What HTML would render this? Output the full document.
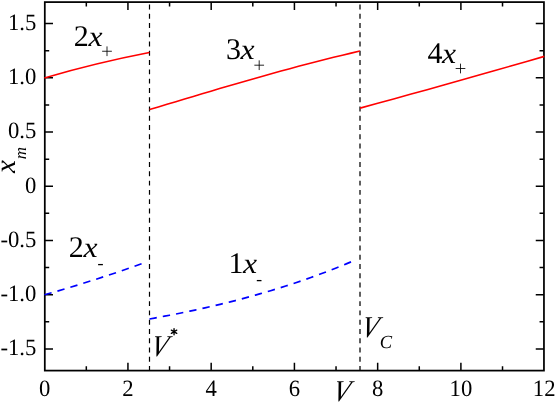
<!DOCTYPE html><html><head><meta charset="utf-8"><style>html,body{margin:0;padding:0;background:#fff}svg{display:block;will-change:transform}text{font-family:"Liberation Serif",serif;fill:#000;text-rendering:geometricPrecision}</style></head><body>
<svg width="556" height="402" viewBox="0 0 556 402">
<rect x="44.8" y="2.1" width="499.15" height="368.50" fill="none" stroke="#000" stroke-width="1.75"/>
<path d="M86.32,370.6v-4.3M86.32,2.1v4.3M127.94,370.6v-7.8M127.94,2.1v7.8M169.56,370.6v-4.3M169.56,2.1v4.3M211.18,370.6v-7.8M211.18,2.1v7.8M252.80,370.6v-4.3M252.80,2.1v4.3M294.42,370.6v-7.8M294.42,2.1v7.8M336.04,370.6v-4.3M336.04,2.1v4.3M377.66,370.6v-7.8M377.66,2.1v7.8M419.28,370.6v-4.3M419.28,2.1v4.3M460.90,370.6v-7.8M460.90,2.1v7.8M502.52,370.6v-4.3M502.52,2.1v4.3M44.8,348.93h8.2M543.95,348.93h-8.2M44.8,321.81h4.4M543.95,321.81h-4.4M44.8,294.70h8.2M543.95,294.70h-8.2M44.8,267.59h4.4M543.95,267.59h-4.4M44.8,240.47h8.2M543.95,240.47h-8.2M44.8,213.36h4.4M543.95,213.36h-4.4M44.8,186.25h8.2M543.95,186.25h-8.2M44.8,159.14h4.4M543.95,159.14h-4.4M44.8,132.03h8.2M543.95,132.03h-8.2M44.8,104.91h4.4M543.95,104.91h-4.4M44.8,77.80h8.2M543.95,77.80h-8.2M44.8,50.69h4.4M543.95,50.69h-4.4M44.8,23.57h8.2M543.95,23.57h-8.2" stroke="#000" stroke-width="1.5" fill="none"/>
<line x1="149.5" y1="4.5" x2="149.5" y2="370" stroke="#000" stroke-width="1.2" stroke-dasharray="4.95 4.32"/>
<line x1="360.0" y1="4.5" x2="360.0" y2="370" stroke="#000" stroke-width="1.25" stroke-dasharray="4.95 4.32"/>
<g fill="none" stroke="#ff0000" stroke-width="1.6">
<path d="M44.4,77.9 Q97.05,62.6 149.4,52.5"/>
<polyline points="149.5,109.56 158.3,106.92 167.0,104.29 175.8,101.65 184.6,99.02 193.3,96.40 202.1,93.78 210.9,91.18 219.6,88.59 228.4,86.02 237.2,83.47 245.9,80.94 254.7,78.44 263.5,75.96 272.2,73.51 281.0,71.09 289.8,68.70 298.5,66.35 307.3,64.03 316.1,61.76 324.8,59.53 333.6,57.34 342.4,55.20 351.1,53.11 359.9,51.06"/>
<polyline points="360.1,108.14 376.8,103.55 393.6,98.94 410.3,94.31 427.1,89.65 443.8,84.97 460.6,80.26 477.3,75.53 494.1,70.77 510.8,65.99 527.6,61.19 544.3,56.36"/>
</g>
<g fill="none" stroke="#0000ff" stroke-width="1.7" stroke-dasharray="7.4 6.1">
<path d="M44.5,294.8 Q93.1,281.1 141.6,263.8"/>
<polyline points="149.5,318.97 154.5,318.06 159.6,317.13 164.6,316.19 169.7,315.22 174.7,314.24 179.8,313.23 184.8,312.20 189.9,311.15 194.9,310.07 199.9,308.97 205.0,307.85 210.0,306.70 215.1,305.52 220.1,304.32 225.2,303.10 230.2,301.84 235.3,300.56 240.3,299.24 245.4,297.90 250.4,296.53 255.4,295.12 260.5,293.69 265.5,292.22 270.6,290.72 275.6,289.19 280.7,287.62 285.7,286.02 290.8,284.38 295.8,282.71 300.9,281.00 305.9,279.25 310.9,277.47 316.0,275.65 321.0,273.79 326.1,271.89 331.1,269.94 336.2,267.96 341.2,265.94 346.3,263.87 351.3,261.76"/>
</g>
<text x="44.70" y="395.5" font-size="23.4" text-anchor="middle" textLength="11.35" lengthAdjust="spacingAndGlyphs">0</text>
<text x="127.94" y="395.5" font-size="23.4" text-anchor="middle" textLength="11.35" lengthAdjust="spacingAndGlyphs">2</text>
<text x="211.18" y="395.5" font-size="23.4" text-anchor="middle" textLength="11.35" lengthAdjust="spacingAndGlyphs">4</text>
<text x="294.42" y="395.5" font-size="23.4" text-anchor="middle" textLength="11.35" lengthAdjust="spacingAndGlyphs">6</text>
<text x="377.66" y="395.5" font-size="23.4" text-anchor="middle" textLength="11.35" lengthAdjust="spacingAndGlyphs">8</text>
<text x="460.90" y="395.5" font-size="23.4" text-anchor="middle" textLength="22.70" lengthAdjust="spacingAndGlyphs">10</text>
<text x="544.14" y="395.5" font-size="23.4" text-anchor="middle" textLength="22.70" lengthAdjust="spacingAndGlyphs">12</text>
<text x="36.4" y="29.87" font-size="23.4" text-anchor="end" textLength="28.38" lengthAdjust="spacingAndGlyphs">1.5</text>
<text x="36.4" y="84.10" font-size="23.4" text-anchor="end" textLength="28.38" lengthAdjust="spacingAndGlyphs">1.0</text>
<text x="36.4" y="138.33" font-size="23.4" text-anchor="end" textLength="28.38" lengthAdjust="spacingAndGlyphs">0.5</text>
<text x="36.4" y="192.55" font-size="23.4" text-anchor="end" textLength="11.35" lengthAdjust="spacingAndGlyphs">0</text>
<text x="36.4" y="246.78" font-size="23.4" text-anchor="end" textLength="35.93" lengthAdjust="spacingAndGlyphs">-0.5</text>
<text x="36.4" y="301.00" font-size="23.4" text-anchor="end" textLength="35.93" lengthAdjust="spacingAndGlyphs">-1.0</text>
<text x="36.4" y="355.23" font-size="23.4" text-anchor="end" textLength="35.93" lengthAdjust="spacingAndGlyphs">-1.5</text>
<text transform="translate(14.5,173.1) rotate(-90)" font-size="29" font-style="italic">x</text>
<text transform="translate(26.2,159.3) rotate(-90)" font-size="17" font-style="italic">m</text>
<text x="73.80" y="45.70" font-size="30">2</text>
<text x="88.40" y="45.75" font-size="29" font-style="italic" textLength="14.1" lengthAdjust="spacingAndGlyphs">x</text>
<path d="M102.15,51.25h9.7M107.0,46.40v9.7" stroke="#000" stroke-width="0.85" fill="none"/>
<text x="225.95" y="59.40" font-size="30">3</text>
<text x="240.55" y="59.45" font-size="29" font-style="italic" textLength="14.1" lengthAdjust="spacingAndGlyphs">x</text>
<path d="M254.35,65.2h9.7M259.2,60.35v9.7" stroke="#000" stroke-width="0.85" fill="none"/>
<text x="427.45" y="63.00" font-size="30">4</text>
<text x="442.05" y="63.05" font-size="29" font-style="italic" textLength="14.1" lengthAdjust="spacingAndGlyphs">x</text>
<path d="M455.65,68.5h9.7M460.5,63.65v9.7" stroke="#000" stroke-width="0.85" fill="none"/>
<text x="68.80" y="256.70" font-size="30">2</text>
<text x="83.40" y="256.75" font-size="29" font-style="italic" textLength="14.1" lengthAdjust="spacingAndGlyphs">x</text>
<path d="M98.1,264.6H102.9" stroke="#000" stroke-width="1.3" fill="none"/>
<text x="228.40" y="273.20" font-size="30">1</text>
<text x="243.00" y="273.25" font-size="29" font-style="italic" textLength="14.1" lengthAdjust="spacingAndGlyphs">x</text>
<path d="M256.8,280.6H261.5" stroke="#000" stroke-width="1.3" fill="none"/>
<text transform="matrix(0.93,0,-0.225,1.045,331.60,400.50)" font-size="29" font-style="italic">V</text>
<text transform="matrix(0.93,0,-0.225,1.045,149.50,356.40)" font-size="29" font-style="italic">V</text>
<path d="M174.05,328.60v6.2M171.35,330.10l5.4,3.2M171.35,333.30l5.4,-3.2" stroke="#000" stroke-width="1.35" stroke-linecap="round" fill="none"/>
<text transform="matrix(0.93,0,-0.225,1.045,359.90,337.00)" font-size="29" font-style="italic">V</text>
<text x="379.8" y="348.4" font-size="18.5" font-style="italic">C</text>
</svg></body></html>
